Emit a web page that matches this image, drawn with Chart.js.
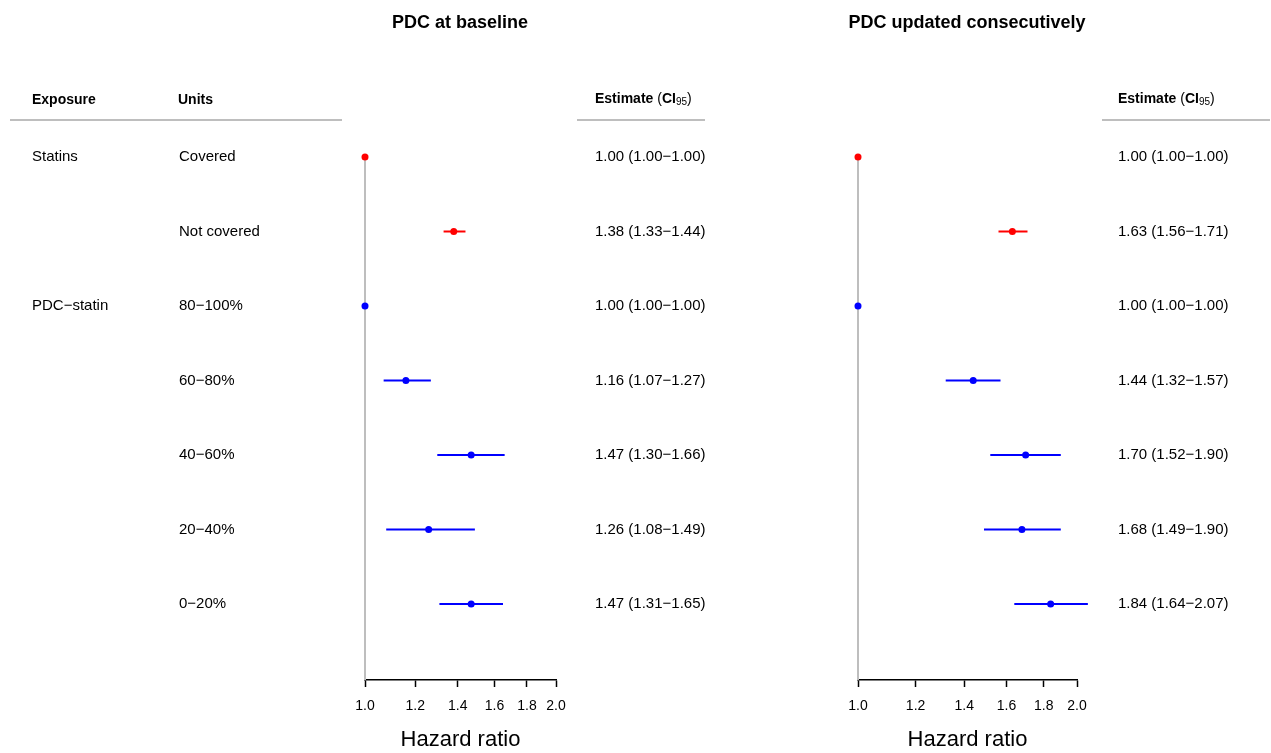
<!DOCTYPE html>
<html>
<head>
<meta charset="utf-8">
<script src="https://cdn.jsdelivr.net/npm/chart.js@4"></script>
<style>
  body { margin: 0; background: #fff; }
  #wrap { position: relative; width: 1271px; height: 753px; }
  canvas { position: absolute; left: 0; top: 0; }
</style>
</head>
<body>
<div id="wrap">
  <canvas id="left" width="1271" height="753"></canvas>
  <canvas id="right" width="1271" height="753"></canvas>
</div>
<script>
// rows, top to bottom
let exposures = ['Statins', '', 'PDC\u2212statin', '', '', '', ''];
let units = ['Covered', 'Not covered', '80\u2212100%', '60\u221280%', '40\u221260%', '20\u221240%', '0\u221220%'];
let rowColors = ['#ff0000', '#ff0000', '#0000ff', '#0000ff', '#0000ff', '#0000ff', '#0000ff'];

// PDC at baseline
let baseEst = [1.00, 1.38, 1.00, 1.16, 1.47, 1.26, 1.47];
let baseLo = [1.00, 1.33, 1.00, 1.07, 1.30, 1.08, 1.31];
let baseHi = [1.00, 1.44, 1.00, 1.27, 1.66, 1.49, 1.65];

// PDC updated consecutively
let updEst = [1.00, 1.63, 1.00, 1.44, 1.70, 1.68, 1.84];
let updLo = [1.00, 1.56, 1.00, 1.32, 1.52, 1.49, 1.64];
let updHi = [1.00, 1.71, 1.00, 1.57, 1.90, 1.90, 2.07];

let xTicks = [1.0, 1.2, 1.4, 1.6, 1.8, 2.0];

const FONT = '"Liberation Sans", Arial, Helvetica, sans-serif';
const MINUS = '\u2212';

function fmt(v) {
    return v.toFixed(2);
}

function estText(est, lo, hi, i) {
    return fmt(est[i]) + ' (' + fmt(lo[i]) + MINUS + fmt(hi[i]) + ')';
}

function buildDatasets(est, lo, hi) {
    let sets = [];
    // points on top
    sets.push({
        type: 'scatter',
        data: est.map((v, i) => ({ x: v, y: i })),
        pointBackgroundColor: rowColors,
        pointBorderColor: rowColors,
        pointRadius: 3.5,
        pointBorderWidth: 0,
        order: 0,
        clip: false
    });
    for (let i = 0; i < est.length; i++) {
        sets.push({
            type: 'line',
            data: [{ x: lo[i], y: i }, { x: hi[i], y: i }],
            borderColor: rowColors[i],
            borderWidth: 2,
            pointRadius: 0,
            order: 1,
            clip: false
        });
    }
    // reference line at 1
    sets.push({
        type: 'line',
        data: [{ x: 1, y: 0 }, { x: 1, y: 7.02 }],
        borderColor: '#bebebe',
        borderWidth: 2,
        pointRadius: 0,
        order: 2,
        clip: false
    });
    return sets;
}

function drawEstimate(ctx, x, y) {
    ctx.textBaseline = 'middle';
    ctx.textAlign = 'left';
    ctx.font = 'bold 14px ' + FONT;
    ctx.fillText('Estimate', x, y);
    x += ctx.measureText('Estimate').width;
    ctx.font = '14px ' + FONT;
    ctx.fillText(' (', x, y);
    x += ctx.measureText(' (').width;
    ctx.font = 'bold 14px ' + FONT;
    ctx.fillText('CI', x, y);
    x += ctx.measureText('CI').width;
    ctx.font = '10px ' + FONT;
    ctx.fillText('95', x, y + 3);
    x += ctx.measureText('95').width;
    ctx.font = '14px ' + FONT;
    ctx.fillText(')', x, y);
}

function hline(ctx, x1, x2, y) {
    ctx.save();
    ctx.strokeStyle = '#bebebe';
    ctx.lineWidth = 2;
    ctx.beginPath();
    ctx.moveTo(x1, y);
    ctx.lineTo(x2, y);
    ctx.stroke();
    ctx.restore();
}

function textPlugin(opts) {
    return {
        id: 'tableText',
        afterDraw(chart) {
            let ctx = chart.ctx;
            let yScale = chart.scales.y;
            ctx.save();
            ctx.fillStyle = '#000';
            ctx.textAlign = 'center';
            ctx.textBaseline = 'middle';
            ctx.font = 'bold 18px ' + FONT;
            ctx.fillText(opts.title, opts.titleX, 23);

            if (opts.table) {
                ctx.textAlign = 'left';
                ctx.font = 'bold 14px ' + FONT;
                ctx.fillText('Exposure', 32, 100);
                ctx.fillText('Units', 178, 100);
                hline(ctx, 10, 342, 120);
                ctx.font = '15px ' + FONT;
                for (let i = 0; i < units.length; i++) {
                    let y = yScale.getPixelForValue(i);
                    ctx.fillText(exposures[i], 32, y);
                    ctx.fillText(units[i], 179, y);
                }
            }
            drawEstimate(ctx, opts.estX, 99);
            hline(ctx, opts.lineX1, opts.lineX2, 120);
            ctx.font = '15px ' + FONT;
            ctx.textAlign = 'left';
            for (let i = 0; i < opts.est.length; i++) {
                let y = yScale.getPixelForValue(i);
                ctx.fillText(estText(opts.est, opts.lo, opts.hi, i), opts.estX, y);
            }
            ctx.restore();
        }
    };
}

function makeChart(id, est, lo, hi, padLeft, padRight, opts) {
    let ctx = document.getElementById(id).getContext('2d');
    return new Chart(ctx, {
        type: 'scatter',
        data: { datasets: buildDatasets(est, lo, hi) },
        options: {
            responsive: false,
            animation: false,
            devicePixelRatio: 1,
            layout: { padding: { left: padLeft, right: padRight, top: 157, bottom: 0 } },
            plugins: { legend: { display: false }, tooltip: { enabled: false } },
            scales: {
                x: {
                    type: 'logarithmic',
                    min: 1,
                    max: 2,
                    afterBuildTicks: s => { s.ticks = xTicks.map(v => ({ value: v })); },
                    afterFit: s => { s.height = 73; },
                    grid: { drawOnChartArea: false, drawTicks: true, tickLength: 7, tickColor: '#000', tickWidth: 1.5 },
                    border: { display: true, color: '#000', width: 1.5 },
                    ticks: {
                        color: '#000',
                        font: { family: FONT, size: 14 },
                        padding: 11,
                        maxRotation: 0,
                        autoSkip: false,
                        callback: v => Number(v).toFixed(1)
                    },
                    title: {
                        display: true,
                        text: 'Hazard ratio',
                        color: '#000',
                        font: { family: FONT, size: 22 },
                        padding: { top: 4, bottom: 0 }
                    }
                },
                y: {
                    type: 'linear',
                    reverse: true,
                    min: 0,
                    max: 7.02,
                    display: false
                }
            }
        },
        plugins: [textPlugin(Object.assign({ est: est, lo: lo, hi: hi }, opts))]
    });
}

makeChart('left', baseEst, baseLo, baseHi, 365, 1271 - 556, {
    title: 'PDC at baseline', titleX: 460, table: true,
    estX: 595, lineX1: 577, lineX2: 705
});
makeChart('right', updEst, updLo, updHi, 858, 1271 - 1077, {
    title: 'PDC updated consecutively', titleX: 967, table: false,
    estX: 1118, lineX1: 1102, lineX2: 1270
});
</script>
</body>
</html>
